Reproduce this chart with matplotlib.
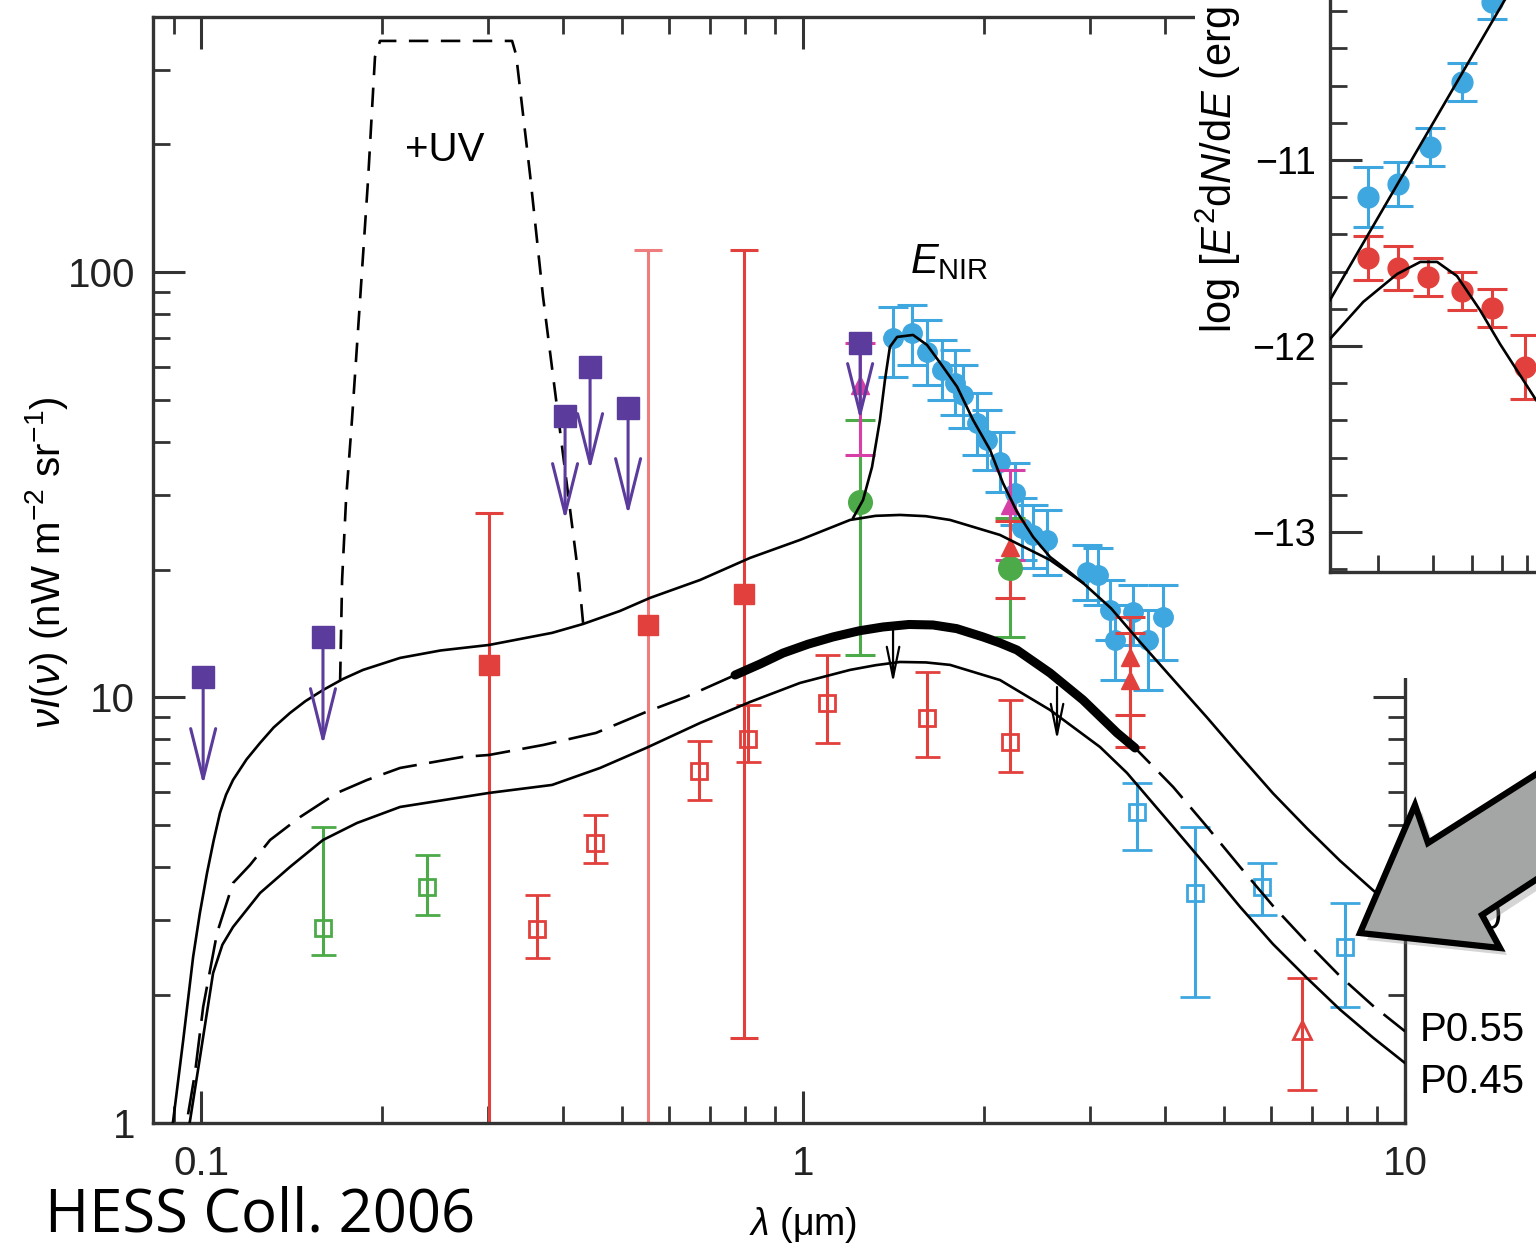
import numpy as np
import matplotlib
matplotlib.use('Agg')
import matplotlib.pyplot as plt
from matplotlib.patches import Rectangle, Polygon
from matplotlib.ticker import LogLocator, NullFormatter, NullLocator, FixedLocator, MultipleLocator

plt.rcParams['font.family'] = ['Liberation Sans', 'DejaVu Sans']
plt.rcParams['mathtext.fontset'] = 'custom'
plt.rcParams['mathtext.rm'] = 'Liberation Sans'
plt.rcParams['mathtext.it'] = 'Liberation Sans:italic'
plt.rcParams['lines.scale_dashes'] = False

# ---- model curves: lambda (micron) vs nuI_nu (nW m^-2 sr^-1) ----
p10_lam = [0.0882, 0.0899, 0.0934, 0.0970, 0.0995, 0.1023, 0.1049, 0.1075, 0.1100, 0.1130,
           0.119, 0.1253, 0.132, 0.1405, 0.149, 0.1594, 0.172, 0.1858, 0.2141, 0.25,
           0.3008, 0.3829, 0.4311, 0.4966, 0.5569, 0.6745, 0.8166, 0.9886, 1.197, 1.32,
           1.449, 1.6, 1.755, 2.124, 2.572, 2.918, 3.25, 3.629, 4.119, 4.690,
           5.320, 6.035, 6.874, 7.798, 8.847, 10.0]
p10_val = [0.816, 1.014, 1.564, 2.452, 3.10, 3.864, 4.60, 5.350, 5.90, 6.396,
           7.15, 7.816, 8.50, 9.194, 9.80, 10.41, 11.05, 11.61, 12.39, 12.90,
           13.29, 14.19, 14.89, 15.98, 17.15, 18.90, 21.30, 23.48, 26.16, 26.75,
           26.88, 26.70, 26.16, 24.12, 21.06, 18.60, 16.2, 13.51, 11.03, 8.97,
           7.29, 5.95, 4.92, 4.13, 3.52, 3.045]

nir_lam = [1.211, 1.258, 1.302, 1.342, 1.368, 1.394, 1.433, 1.523, 1.607, 1.689,
           1.803, 1.916, 2.045, 2.148, 2.267, 2.411, 2.572, 2.745, 2.918]
nir_val = [26.45, 29.15, 34.86, 44.98, 55.86, 66.8, 70.5, 71.27, 67.5, 61.3,
           53.8, 44.98, 38.23, 31.97, 27.32, 23.86, 21.41, 19.95, 18.60]

p55_lam = [0.0923, 0.0948, 0.0977, 0.1008, 0.1063, 0.1130, 0.1206, 0.1302, 0.1461, 0.1682, 0.1887,
           0.2141, 0.2715, 0.3008, 0.3699, 0.4530, 0.5486, 0.6392, 0.7709, 0.85, 0.9264,
           1.02, 1.1215, 1.24, 1.358, 1.5, 1.644, 1.8, 1.991, 2.12, 2.267,
           2.572, 2.918, 3.324, 3.561, 4.119, 4.690, 5.320, 6.035, 6.874, 7.798,
           8.847, 10.0]
p55_val = [0.812, 1.014, 1.308, 1.870, 2.792, 3.660, 4.036, 4.620, 5.234, 5.962, 6.396,
           6.826, 7.244, 7.323, 7.730, 8.253, 9.245, 10.03, 11.29, 12.0, 12.72,
           13.35, 13.88, 14.35, 14.65, 14.85, 14.81, 14.52, 13.88, 13.45, 12.93,
           11.42, 9.866, 8.253, 7.606, 6.159, 4.961, 3.995, 3.233, 2.652, 2.210,
           1.882, 1.639]
thick_from, thick_to = 0.77, 3.57

p45_lam = [0.0943, 0.0959, 0.0996, 0.1047, 0.1085, 0.1130, 0.1253, 0.1405, 0.1594, 0.1816,
           0.2141, 0.3008, 0.3829, 0.4601, 0.5486, 0.6745, 0.8166, 0.9886, 1.197, 1.32,
           1.449, 1.6, 1.755, 2.124, 2.572, 3.114, 3.453, 4.119, 4.690, 5.320,
           6.035, 6.874, 7.798, 8.847, 10.0]
p45_val = [0.885, 1.014, 1.426, 2.247, 2.62, 2.884, 3.467, 3.993, 4.620, 5.067,
           5.526, 5.962, 6.226, 6.826, 7.606, 8.710, 9.759, 10.82, 11.61, 11.91,
           12.12, 12.09, 11.93, 10.99, 9.346, 7.647, 6.643, 4.959, 3.993, 3.218,
           2.629, 2.187, 1.844, 1.584, 1.380]

uv_lam = [0.1702, 0.1715, 0.1741, 0.1781, 0.1837, 0.1894, 0.1945, 0.1983,
          0.3286, 0.3337, 0.3520, 0.3699, 0.3948, 0.4245, 0.4311]
uv_val = [10.93, 18.9, 29.15, 44.98, 86.15, 165.1, 321.5, 350.5,
          350.5, 325.0, 169.6, 87.6, 42.3, 18.9, 14.98]

# ---- data points ----
ul_lam = [0.1008, 0.1594, 0.4024, 0.4428, 0.5121, 1.244]      # purple upper limits
ul_val = [11.17, 13.88, 45.96, 59.94, 48.0, 68.27]
ul_tip = [6.226, 7.73, 26.16, 34.3, 26.88, 44.98]

rsq_lam = [0.3008, 0.5528, 0.798]                              # red filled squares
rsq_val = [11.93, 14.81, 17.52]
rsq_hi = [27.18, 112.9, 112.9]
rsq_lo = [0.5, 0.5, 1.58]

ros_lam = [0.3615, 0.4513, 0.6719, 0.8103, 1.096, 1.607, 2.207]  # red open squares
ros_val = [2.853, 4.546, 6.715, 7.99, 9.707, 8.95, 7.86]
ros_hi = [3.43, 5.29, 7.90, 9.60, 12.59, 11.48, 9.866]
ros_lo = [2.438, 4.08, 5.74, 7.05, 7.816, 7.244, 6.68]

gos_lam = [0.1594, 0.2373]                                     # green open squares
gos_val = [2.868, 3.582]
gos_hi = [4.959, 4.261]
gos_lo = [2.478, 3.077]

gfc_lam = [1.244, 2.207]                                       # green filled circles
gfc_val = [28.84, 20.17]
gfc_hi = [44.98, 26.45]
gfc_lo = [12.59, 13.88]

mag_lam = [1.244, 2.207]                                       # magenta triangles
mag_val = [54.36, 28.38]
mag_hi = [68.27, 34.3]
mag_lo = [37.2, 21.06]

rtr_lam = [2.207, 3.493, 3.493]                                # red filled triangles
rtr_val = [22.6, 12.46, 10.99]
rtr_hi = [26.0, 15.47, 14.19]
rtr_lo = [17.15, 9.094, 7.647]

rot_lam = [6.744]                                              # red open triangle
rot_val = [1.651]
rot_hi = [2.188]
rot_lo = [1.193]

cos_lam = [3.588, 4.479, 5.788, 7.95]                          # cyan open squares
cos_val = [5.378, 3.467, 3.582, 2.588]
cos_hi = [6.293, 4.959, 4.079, 3.285]
cos_lo = [4.377, 1.974, 3.077, 1.870]

cfc_lam = [1.411, 1.517, 1.607, 1.702, 1.788, 1.844, 1.945, 2.021, 2.124, 2.250,
           2.311, 2.411, 2.543, 2.963, 3.090, 3.236, 3.298, 3.533, 3.742, 3.963]
cfc_val = [70.14, 72.05, 65.0, 58.97, 54.95, 51.5, 44.25, 40.35, 35.83, 30.28,
           25.06, 24.12, 23.48, 19.74, 19.43, 16.07, 13.66, 15.9, 13.66, 15.47]
cfc_hi = [82.9, 83.8, 77.3, 69.4, 65.7, 60.6, 52.07, 47.5, 42.14, 35.64,
          29.47, 28.38, 27.62, 22.85, 22.47, 18.9, 16.5, 18.4, 16.07, 18.4]
cfc_lo = [56.8, 60.6, 54.4, 50.1, 46.2, 43.06, 37.2, 34.3, 30.44, 25.47,
          21.06, 20.17, 19.43, 16.96, 16.5, 13.66, 11.0, 13.29, 10.41, 12.26]

lim_lam = [1.411, 2.642]                                       # black limit arrows
lim_top = [14.42, 10.58]
lim_tip = [10.82, 7.943]

# ---- inset: log E^2 dN/dE vs E ----
ins_blue_E = [0.186, 0.232, 0.294, 0.372, 0.464]
ins_blue_y = [-11.199, -11.129, -10.930, -10.581, -10.15]
ins_blue_err = [0.16, 0.12, 0.10, 0.10, 0.09]
ins_red_E = [0.186, 0.232, 0.289, 0.372, 0.464, 0.592]
ins_red_y = [-11.527, -11.581, -11.629, -11.704, -11.796, -12.113]
ins_red_err = [0.12, 0.12, 0.10, 0.10, 0.10, 0.17]
ins_bfit_E = [0.14, 0.57]
ins_bfit_y = [-11.753, -10.0]
ins_rfit_E = [0.14, 0.179, 0.230, 0.273, 0.309, 0.358, 0.424, 0.492, 0.642]
ins_rfit_y = [-11.962, -11.763, -11.613, -11.548, -11.548, -11.624, -11.806, -11.989, -12.29]

purple = '#5b3b9b'
red = '#e2403c'
pink = '#ef7d7d'
green = '#4caa48'
cyan = '#3fa7df'
magenta = '#d63fa6'
spine_c = '#333333'

W, H = 1536, 1250
fig = plt.figure(figsize=(W / 100, H / 100), dpi=100)
ax = fig.add_axes([153 / W, (H - 1122.5) / H, (1405 - 153) / W, (1122.5 - 17) / H])
ax.set_xscale('log')
ax.set_yscale('log')
ax.set_xlim(0.0832, 10)
ax.set_ylim(1, 399)


def eb(x, y, lo, hi, **kw):
    y = np.array(y)
    yerr = [y - np.array(lo), np.array(hi) - y]
    ax.errorbar(x, y, yerr=yerr, linestyle='none', elinewidth=2.2, capthick=2.2, **kw)


eb(rsq_lam[:1] + rsq_lam[2:], rsq_val[:1] + rsq_val[2:], rsq_lo[:1] + rsq_lo[2:],
   rsq_hi[:1] + rsq_hi[2:], fmt='s', color=red, ms=14, capsize=10, zorder=2)
eb(rsq_lam[1:2], rsq_val[1:2], rsq_lo[1:2], rsq_hi[1:2], fmt='none', ecolor=pink, capsize=10, zorder=2)
ax.plot(rsq_lam[1:2], rsq_val[1:2], 's', color=red, ms=14, zorder=2.1)
eb(ros_lam, ros_val, ros_lo, ros_hi, fmt='s', color=red, mfc='none', mew=2, ms=12, capsize=9, zorder=2)
eb(gos_lam, gos_val, gos_lo, gos_hi, fmt='s', color=green, mfc='none', mew=2, ms=12, capsize=9, zorder=2)
eb(cfc_lam, cfc_val, cfc_lo, cfc_hi, fmt='o', color=cyan, ms=14, capsize=11, zorder=2)
eb(cos_lam, cos_val, cos_lo, cos_hi, fmt='s', color=cyan, mfc='none', mew=2, ms=12, capsize=11, zorder=2)
eb(gfc_lam, gfc_val, gfc_lo, gfc_hi, fmt='o', color=green, ms=17, capsize=11, zorder=2.2)
eb(mag_lam, mag_val, mag_lo, mag_hi, fmt='^', color=magenta, ms=13, capsize=11, zorder=2.3)
eb(rtr_lam, rtr_val, rtr_lo, rtr_hi, fmt='^', color=red, ms=13, capsize=11, zorder=2.3)
eb(rot_lam, rot_val, rot_lo, rot_hi, fmt='^', color=red, mfc='none', mew=2, ms=13, capsize=11, zorder=2)

for x, top, tip in zip(ul_lam, ul_val, ul_tip):
    ax.annotate('', xy=(x, tip), xytext=(x, top), zorder=3.5,
                arrowprops=dict(arrowstyle='->,head_length=3.6,head_width=0.9',
                                color=purple, lw=2.2, shrinkA=0, shrinkB=0))
ax.plot(ul_lam, ul_val, 's', color=purple, ms=15.5, zorder=4)

# curves
ax.plot(p10_lam, p10_val, color='k', lw=1.9, zorder=3)
ax.plot(nir_lam, nir_val, color='k', lw=1.9, zorder=3)
ax.plot(p45_lam, p45_val, color='k', lw=1.9, zorder=3)
ax.plot(p55_lam, p55_val, color='k', lw=1.9, ls=(0, (25, 9)), zorder=3)
ax.plot(uv_lam, uv_val, color='k', lw=1.9, ls=(0, (14, 9)), zorder=3)
thick = [(l, v) for l, v in zip(p55_lam, p55_val) if thick_from <= l <= thick_to]
ax.plot([t[0] for t in thick], [t[1] for t in thick], color='k', lw=6.5,
        solid_capstyle='round', zorder=3.2)

for x, top, tip in zip(lim_lam, lim_top, lim_tip):
    ax.annotate('', xy=(x, tip), xytext=(x, top), zorder=3.5,
                arrowprops=dict(arrowstyle='->,head_length=2.2,head_width=0.45',
                                color='k', lw=1.6, shrinkA=0, shrinkB=0))

ax.text(0.2542, 194, '+UV', fontsize=29, ha='center', va='center')
ax.text(1.75, 106, r'$E_{\mathrm{NIR}}$', fontsize=30, ha='center', va='center')

ax.set_xticks([0.1, 1, 10], labels=['0.1', '1', '10'])
ax.set_yticks([1, 10, 100], labels=['1', '10', '100'])
ax.xaxis.set_minor_locator(LogLocator(base=10, subs=np.arange(2, 10)))
ax.yaxis.set_minor_locator(LogLocator(base=10, subs=np.arange(2, 10)))
ax.xaxis.set_minor_formatter(NullFormatter())
ax.yaxis.set_minor_formatter(NullFormatter())
ax.tick_params(which='both', direction='in', top=True, right=True, color=spine_c)
ax.tick_params(which='major', length=23, width=2.2, labelsize=29, labelcolor='#222222')
ax.tick_params(axis='x', which='major', pad=16)
ax.tick_params(axis='y', which='major', pad=13)
ax.tick_params(which='minor', length=12, width=2.0)
for s in ax.spines.values():
    s.set_linewidth(2.4)
    s.set_color(spine_c)

# white cover behind the inset
fig.add_artist(Rectangle((1195 / W, (H - 678) / H), 1, 1, transform=fig.transFigure,
                         facecolor='white', edgecolor='none', zorder=1))

# inset
axi = fig.add_axes([1330 / W, (H - 572) / H, (W - 1330) / W, 572 / H], zorder=2)
axi.set_xscale('log')
axi.set_xlim(0.14, 0.642)
axi.set_ylim(-13.215, -10.14)
axi.errorbar(ins_blue_E, ins_blue_y, yerr=ins_blue_err, fmt='o', color=cyan, ms=15,
             capsize=11, elinewidth=2.2, capthick=2.2, clip_on=False, zorder=2)
axi.errorbar(ins_red_E, ins_red_y, yerr=ins_red_err, fmt='o', color=red, ms=15,
             capsize=11, elinewidth=2.2, capthick=2.2, zorder=2)
axi.plot(ins_bfit_E, ins_bfit_y, color='k', lw=1.9, zorder=3)
axi.plot(ins_rfit_E, ins_rfit_y, color='k', lw=1.9, zorder=3)
axi.spines['top'].set_visible(False)
axi.spines['right'].set_visible(False)
for s in ('left', 'bottom'):
    axi.spines[s].set_linewidth(2.4)
    axi.spines[s].set_color(spine_c)
axi.set_yticks([-13, -12, -11])
axi.yaxis.set_minor_locator(MultipleLocator(0.2))
axi.xaxis.set_major_locator(NullLocator())
axi.xaxis.set_minor_locator(FixedLocator([0.2, 0.3, 0.4, 0.5, 0.6]))
axi.xaxis.set_minor_formatter(NullFormatter())
axi.tick_params(which='both', direction='in', color=spine_c)
axi.tick_params(which='major', length=23, width=2.2, labelsize=27, pad=10)
axi.tick_params(which='minor', length=12, width=2.0)
fig.text(1218 / W, 1 - 333 / H, r'log [$E^2$d$N$/d$E$ (erg cm$^{-2}$ s$^{-1}$)]',
         rotation=90, ha='center', va='bottom', fontsize=30, zorder=3)

# labels
fig.text(47 / W, 1 - 563 / H, r'$\nu I(\nu)$ (nW m$^{-2}$ sr$^{-1}$)', rotation=90,
         ha='center', va='center', fontsize=29)
fig.text(803 / W, 1 - 1225 / H, r'$\lambda$ (μm)', ha='center', va='center', fontsize=27)
fig.text(45 / W, 1 - 1216 / H, 'HESS Coll. 2006', family=['Open Sans', 'DejaVu Sans'],
         fontsize=43, va='center', ha='left')
for txt, py in (('P1.0', 918), ('P0.55', 1030), ('P0.45', 1082)):
    fig.text(1420 / W, 1 - py / H, txt, fontsize=29, va='center', ha='left', zorder=3)

# grey block arrow
arrow_px = [(1360, 933), (1415, 805), (1428, 843), (1560, 759), (1560, 864),
            (1482, 915), (1500, 948)]
shadow = [((x + 7) / W, 1 - (y + 7) / H) for x, y in arrow_px]
fig.add_artist(Polygon(shadow, closed=True, transform=fig.transFigure,
                       facecolor='#888888', edgecolor='none', alpha=0.35, zorder=4))
verts = [(x / W, 1 - y / H) for x, y in arrow_px]
fig.add_artist(Polygon(verts, closed=True, transform=fig.transFigure,
                       facecolor='#a4a6a5', edgecolor='black', lw=4.5,
                       joinstyle='miter', zorder=5))

fig.savefig('out.png', dpi=100)
